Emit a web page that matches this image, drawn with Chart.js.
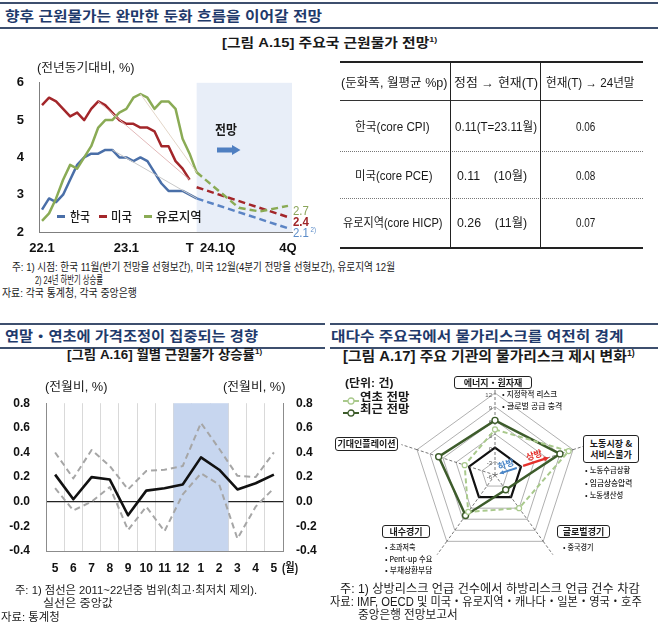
<!DOCTYPE html>
<html lang="ko">
<head>
<meta charset="utf-8">
<script src="https://cdn.jsdelivr.net/npm/chart.js@4.4.1/dist/chart.umd.min.js"></script>
<style>
  body { margin: 0; width: 658px; height: 628px; position: relative; background: #fff; overflow: hidden;
         font-family: 'Liberation Sans', 'Noto Sans CJK KR', sans-serif; color: #1a1a1a; }
  .t { position: absolute; white-space: nowrap; line-height: 1; transform-origin: 0 50%; }
  .rule { position: absolute; }
  canvas { position: absolute; }
  .box { position: absolute; border: 1.3px solid #222; border-radius: 3px; background: #fff; box-sizing: border-box;
         display: flex; align-items: center; justify-content: center; text-align: center;
         font-family: 'Noto Sans CJK KR', sans-serif; font-weight: 700; font-size: 9px; line-height: 1.25; }
  sup { font-size: 0.6em; vertical-align: 0.6em; line-height: 0; }
</style>
</head>
<body>
<canvas id="coreChart" width="330" height="200" style="left:0;top:60px"></canvas>
<canvas id="monthlyChart" width="330" height="200" style="left:0;top:380px"></canvas>
<canvas id="riskChart" width="220" height="220" style="left:385px;top:365px"></canvas>

<script>
/* ===== [그림 A.15] 주요국 근원물가 (22.1 ~ 24.12, 월 index) ===== */
const koreaCore = [2.6, 2.9, 2.8, 3.0, 3.4, 3.8, 4.0, 4.1, 4.1, 4.2, 4.2, 4.0, 4.0, 3.9, 4.0, 3.9, 3.6, 3.3, 3.1, 3.1, 3.1, 3.0, 2.9];
const usCore    = [5.4, 5.6, 5.5, 5.3, 5.1, 5.2, 5.0, 5.3, 5.5, 5.4, 5.2, 5.0, 4.9, 4.9, 4.8, 4.8, 4.7, 4.3, 4.3, 3.9, 3.7, 3.4];
const euroCore  = [2.3, 2.5, 2.9, 3.4, 3.8, 3.7, 4.0, 4.3, 4.8, 5.0, 5.0, 5.2, 5.3, 5.6, 5.7, 5.6, 5.3, 5.5, 5.5, 5.3, 4.5, 4.1, 3.6];

const koreaFcstX = [22, 35], koreaFcst = [2.9, 2.1];
const usFcstX    = [22, 35], usFcst    = [3.2, 2.4];
const euroFcstX  = [22, 28, 31, 35], euroFcst = [3.6, 2.65, 2.55, 2.7];

// 정점 -> 현재(T) 추세선
const koreaPeakX = [10, 22], koreaPeakY = [4.2, 2.9];
const usPeakX    = [8, 21],  usPeakY    = [5.5, 3.4];
const euroPeakX  = [14, 22], euroPeakY  = [5.7, 3.6];

const forecastFrom = 22;
const coreTickIdx  = [0, 12, 21, 25, 35];
const coreTickText = ['22.1', '23.1', 'T', '24.1Q', '4Q'];

/* ===== [그림 A.16] 월별 근원물가 상승률 ===== */
const monthLabels   = ['5', '6', '7', '8', '9', '10', '11', '12', '1', '2', '3', '4', '5'];
const medianChange  = [0.22, 0.02, 0.20, 0.18, -0.11, 0.09, 0.11, 0.14, 0.36, 0.26, 0.10, 0.15, 0.22];
const upperRange    = [0.40, 0.19, 0.42, 0.29, 0.10, 0.25, 0.26, 0.29, 0.64, 0.43, 0.21, 0.20, 0.40];
const lowerRange    = [0.11, -0.07, 0.00, 0.12, -0.23, -0.04, -0.24, 0.06, 0.23, 0.14, -0.30, -0.04, 0.11];
const shadedMonths  = [7, 9];   // 12월 ~ 2월

/* ===== [그림 A.17] 물가리스크 (단위: 건) ===== */
const riskAxes   = ['에너지・원자재', '노동시장 & 서비스물가', '글로벌경기', '내수경기', '기대인플레이션'];
const riskEarly  = [4, 11, 3, 4, 1];
const riskRecent = [6, 9, -2, 5, 7];
const upArrow    = [0.5, 6.5];
const downArrow  = [-1, -5];

/* ---------- helpers ---------- */
function put(html, x, cy, size, w, css) {
  const el = document.createElement('div');
  el.className = 't';
  el.innerHTML = html;
  el.style.left = x + 'px';
  el.style.top = (cy - size * 0.5) + 'px';
  el.style.fontSize = size + 'px';
  if (css) el.style.cssText += css;
  document.body.appendChild(el);
  if (w) el.style.transform = 'scaleX(' + (w / el.offsetWidth).toFixed(3) + ')';
  return el;
}
function rule(x, y, w, h, css) {
  const el = document.createElement('div');
  el.className = 'rule';
  el.style.cssText += `left:${x}px;top:${y}px;width:${w}px;height:${h}px;` + css;
  document.body.appendChild(el);
}
function box(html, x, y, w, h) {
  const el = document.createElement('div');
  el.className = 'box';
  el.innerHTML = html;
  el.style.cssText += `left:${x}px;top:${y}px;width:${w}px;height:${h}px;`;
  document.body.appendChild(el);
}
function svg(x, y, w, h, inner) {
  const d = document.createElement('div');
  d.style.cssText = `position:absolute;left:${x}px;top:${y}px;width:${w}px;height:${h}px`;
  d.innerHTML = `<svg width="${w}" height="${h}" xmlns="http://www.w3.org/2000/svg">${inner}</svg>`;
  document.body.appendChild(d);
}

const NAVY = 'color:#1f3a6b;font-weight:700;font-family:"Noto Sans CJK KR",sans-serif';
const BOLD = 'font-weight:700';

/* ---------- page text / rules ---------- */
rule(0, 2, 658, 1.5, 'background:#3d4f6e');
rule(0, 27, 658, 1.5, 'background:#3d4f6e');
put('향후 근원물가는 완만한 둔화 흐름을 이어갈 전망', 5, 14.5, 14, 317, NAVY);
put('[그림 A.15] 주요국 근원물가 전망<sup>1)</sup>', 222, 42, 13, 215, BOLD);
put('(전년동기대비, %)', 37, 68, 12, 98);

put('전망', 215, 129, 13, 22, BOLD);
svg(217, 141, 24, 10, '<path d="M0 2.5 H15 V0 L23.5 5 L15 10 V7.5 H0 Z" fill="#4f7fc1"/>');

rule(57, 215, 8, 2.5, 'background:#4a6fa8');
put('한국', 70, 216, 13, 20, 'font-weight:500');
rule(99, 215, 8, 2.5, 'background:#a3262a');
put('미국', 111, 216, 13, 21, 'font-weight:500');
rule(144, 215, 8, 2.5, 'background:#8aab55');
put('유로지역', 156, 216, 13, 46, 'font-weight:500');

// table
rule(340, 61, 303, 2, 'background:#222');
rule(340, 100, 303, 1, 'background:#333');
rule(340, 151, 303, 0, 'border-top:1px dotted #777');
rule(340, 198, 303, 0, 'border-top:1px dotted #777');
rule(340, 247, 303, 2, 'background:#222');
rule(450, 62, 1.2, 186, 'background:#222');
rule(540, 62, 1.2, 186, 'background:#222');
put('(둔화폭, 월평균 %p)', 341, 83, 12, 107);
put('정점 → 현재(T)', 454, 83, 12, 84);
put('현재(T) → 24년말', 546, 83, 12, 89);
put('한국(core CPI)', 355, 127, 12, 75);
put('0.11(T=23.11월)', 455, 127, 12, 82);
put('0.06', 576, 127, 12, 19);
put('미국(core PCE)', 355, 176, 12, 77);
put('0.11&nbsp;&nbsp;&nbsp; (10월)', 457, 176, 12, 70);
put('0.08', 576, 176, 12, 19);
put('유로지역(core HICP)', 343, 223, 12, 100);
put('0.26&nbsp;&nbsp;&nbsp; (11월)', 457, 223, 12, 70);
put('0.07', 576, 223, 12, 19);

put('주: 1) 시점: 한국 11월(반기 전망을 선형보간), 미국 12월(4분기 전망을 선형보간), 유로지역 12월', 12, 267, 11, 383);
put('2) 24년 하반기 상승률', 35, 280, 11, 68);
put('자료: 각국 통계청, 각국 중앙은행', 2, 293, 11, 135);

// lower sections
rule(0, 323, 325, 1.5, 'background:#3d4f6e');
rule(0, 347, 325, 1.5, 'background:#3d4f6e');
rule(330, 323, 328, 1.5, 'background:#3d4f6e');
rule(330, 347, 328, 1.5, 'background:#3d4f6e');
put('연말・연초에 가격조정이 집중되는 경향', 5, 335, 14, 253, NAVY);
put('대다수 주요국에서 물가리스크를 여전히 경계', 331, 335, 14, 292, NAVY);
put('[그림 A.16] 월별 근원물가 상승률<sup>1)</sup>', 67, 354, 13, 195, BOLD);
put('[그림 A.17] 주요 기관의 물가리스크 제시 변화<sup>1)</sup>', 343, 356, 14, 292, BOLD);

put('(전월비, %)', 45, 387, 12, 62);
put('(전월비, %)', 223, 387, 12, 62);
put('(월)', 282, 568, 12, 16, BOLD);
put('주: 1) 점선은 2011~22년중 범위(최고·최저치 제외).', 15, 590, 11, 242);
put('실선은 중앙값', 43, 603, 11, 70);
put('자료: 통계청', 1, 617, 11, 59);

put('(단위: 건)', 345, 383, 11, 48, BOLD);
svg(343, 392, 16, 10, '<line x1="0" y1="5" x2="16" y2="5" stroke="#a9c98c" stroke-width="2"/><circle cx="8" cy="5" r="3" fill="#fff" stroke="#a9c98c" stroke-width="1.3"/>');
put('연초 전망', 360, 397, 11, 50, BOLD);
svg(343, 404, 16, 10, '<line x1="0" y1="5" x2="16" y2="5" stroke="#3d5c2b" stroke-width="2"/><circle cx="8" cy="5" r="3" fill="#fff" stroke="#3d5c2b" stroke-width="1.3"/>');
put('최근 전망', 360, 409, 11, 50, BOLD);

put('주: 1) 상방리스크 언급 건수에서 하방리스크 언급 건수 차감', 340, 589, 12, 300);
put('자료: IMF, OECD 및 미국・유로지역・캐나다・일본・영국・호주', 330, 602, 12, 312);
put('중앙은행 전망보고서', 358, 615, 12, 100);

/* ---------- charts ---------- */
Chart.defaults.font.family = "'Liberation Sans', 'Noto Sans CJK KR', sans-serif";
Chart.defaults.color = '#111';
Chart.defaults.animation = false;
Chart.defaults.plugins.legend.display = false;
Chart.defaults.plugins.tooltip.enabled = false;
Chart.defaults.elements.point.radius = 0;
Chart.defaults.elements.line.tension = 0;

const pts = (xs, ys) => ys.map((y, i) => ({ x: xs[i], y }));
const idx = arr => arr.map((_, i) => i);
const line = (data, color, width, dash) => ({
  data, borderColor: color, borderWidth: width, borderDash: dash || [], fill: false, borderJoinStyle: 'round'
});

const coreDecor = {
  id: 'coreDecor',
  beforeDatasetsDraw(chart) {
    const { ctx, chartArea: a, scales: { x } } = chart;
    const x0 = x.getPixelForValue(forecastFrom);
    ctx.save();
    ctx.fillStyle = '#e8eef8';
    ctx.fillRect(x0, a.top, a.right - x0, a.bottom - a.top);
    ctx.restore();
  },
  afterDatasetsDraw(chart) {
    const { ctx, chartArea: a, scales: { y } } = chart;
    const ends = [
      [euroFcst, '#8aa55a', ''],
      [usFcst, '#a0262a', 'bold '],
      [koreaFcst, '#5b8cc8', '']
    ];
    ctx.save();
    ctx.textBaseline = 'middle';
    ends.forEach(([arr, color, weight], k) => {
      const v = arr[arr.length - 1];
      const py = y.getPixelForValue(v) + 5.5;
      ctx.save();
      ctx.translate(a.right + 1, py);
      ctx.scale(0.88, 1);
      ctx.fillStyle = color;
      ctx.font = weight + '13px Liberation Sans';
      ctx.fillText(v.toFixed(1), 0, 0);
      if (k === 2) {
        ctx.font = '7px Liberation Sans';
        ctx.fillText('2)', 20, -4);
      }
      ctx.restore();
    });
    ctx.restore();
  }
};

new Chart(document.getElementById('coreChart'), {
  type: 'line',
  data: {
    datasets: [
      line(pts(koreaPeakX, koreaPeakY), '#c8c8c8', 1),
      line(pts(usPeakX, usPeakY), '#e2b9b9', 1),
      line(pts(euroPeakX, euroPeakY), '#e3d6c8', 1),
      line(pts(euroFcstX, euroFcst), '#8aab55', 2.5, [7, 4]),
      line(pts(usFcstX, usFcst), '#a3262a', 2.5, [7, 4]),
      line(pts(koreaFcstX, koreaFcst), '#5b84c4', 2.5, [7, 4]),
      line(pts(idx(euroCore), euroCore), '#8aab55', 2.5),
      line(pts(idx(usCore), usCore), '#a3262a', 2.5),
      line(pts(idx(koreaCore), koreaCore), '#4a6fa8', 2.5)
    ]
  },
  options: {
    responsive: false,
    layout: { padding: { top: 17, right: 38, left: 0, bottom: 0 } },
    scales: {
      x: {
        type: 'linear', min: -0.43, max: 35.57,
        afterBuildTicks: s => { s.ticks = coreTickIdx.map(v => ({ value: v })); },
        afterFit: s => { s.height = 28; },
        ticks: {
          autoSkip: false, maxRotation: 0, padding: 9,
          font: { size: 13, weight: 'bold' },
          callback: v => coreTickText[coreTickIdx.indexOf(v)]
        },
        grid: { display: false, drawTicks: false },
        border: { color: '#7f7f7f' }
      },
      y: {
        min: 2, max: 6,
        afterFit: s => { s.width = 39; },
        ticks: { stepSize: 1, padding: 15, font: { size: 13, weight: 'bold' } },
        grid: { drawOnChartArea: false, drawTicks: false },
        border: { color: '#7f7f7f' }
      }
    }
  },
  plugins: [coreDecor]
});

const monthShade = {
  id: 'monthShade',
  beforeDatasetsDraw(chart) {
    const { ctx, chartArea: a, scales: { x } } = chart;
    const half = (x.getPixelForValue(1) - x.getPixelForValue(0)) / 2;
    const x0 = x.getPixelForValue(shadedMonths[0]) - half;
    const x1 = x.getPixelForValue(shadedMonths[1]) + half;
    ctx.save();
    ctx.fillStyle = '#c7d6ef';
    ctx.fillRect(x0, a.top, x1 - x0, a.bottom - a.top);
    ctx.restore();
  }
};

const zeroOnly = c => Math.abs(c.tick.value) < 1e-9 ? '#222' : 'rgba(0,0,0,0)';
const fmt = v => Math.abs(v) < 1e-9 ? '0.0' : v.toFixed(1);

new Chart(document.getElementById('monthlyChart'), {
  type: 'line',
  data: {
    labels: monthLabels,
    datasets: [
      line(upperRange, '#a6a6a6', 2, [6, 4]),
      line(lowerRange, '#a6a6a6', 2, [6, 4]),
      line(medianChange, '#111', 2.6)
    ]
  },
  options: {
    responsive: false,
    layout: { padding: { top: 15, right: 0, left: 0, bottom: 0 } },
    scales: {
      x: {
        offset: true,
        afterFit: s => { s.height = 29; },
        ticks: { padding: 10, maxRotation: 0, autoSkip: false, font: { size: 12, weight: 'bold' } },
        grid: { offset: true, color: '#d9d9d9', drawTicks: false },
        border: { color: '#8c8c8c' }
      },
      y: {
        position: 'left', min: -0.4, max: 0.8,
        afterFit: s => { s.width = 46; },
        ticks: { stepSize: 0.2, padding: 16, callback: fmt, font: { size: 12, weight: 'bold' } },
        grid: { color: zeroOnly, lineWidth: 1.2, drawTicks: false },
        border: { color: '#8c8c8c' }
      },
      y2: {
        position: 'right', min: -0.4, max: 0.8,
        afterFit: s => { s.width = 47; },
        ticks: { stepSize: 0.2, padding: 13, callback: fmt, font: { size: 12, weight: 'bold' } },
        grid: { drawOnChartArea: false, drawTicks: false },
        border: { color: '#8c8c8c' }
      }
    }
  },
  plugins: [monthShade]
});

function arrowLine(ctx, p0, p1, color, width, head) {
  const ang = Math.atan2(p1.y - p0.y, p1.x - p0.x);
  ctx.strokeStyle = color; ctx.fillStyle = color; ctx.lineWidth = width;
  ctx.beginPath();
  ctx.moveTo(p0.x, p0.y);
  ctx.lineTo(p1.x - Math.cos(ang) * head * 0.8, p1.y - Math.sin(ang) * head * 0.8);
  ctx.stroke();
  ctx.beginPath();
  ctx.moveTo(p1.x, p1.y);
  ctx.lineTo(p1.x - Math.cos(ang - 0.45) * head, p1.y - Math.sin(ang - 0.45) * head);
  ctx.lineTo(p1.x - Math.cos(ang + 0.45) * head, p1.y - Math.sin(ang + 0.45) * head);
  ctx.closePath();
  ctx.fill();
}

const riskDecor = {
  id: 'riskDecor',
  beforeDatasetsDraw(chart) {
    const r = chart.scales.r;
    const ctx = chart.ctx;
    ctx.save();
    ctx.strokeStyle = '#555';
    ctx.lineWidth = 0.8;
    ctx.setLineDash([3, 2]);
    riskAxes.forEach((_, i) => {
      const a = r.getPointPositionForValue(i, r.max);
      const b = r.getPointPosition(i, r.drawingArea * 1.2);
      ctx.beginPath(); ctx.moveTo(a.x, a.y); ctx.lineTo(b.x, b.y); ctx.stroke();
    });
    ctx.setLineDash([]);
    ctx.fillStyle = '#555';
    ctx.font = '6px Liberation Sans';
    ctx.textAlign = 'right';
    ctx.textBaseline = 'middle';
    for (let v = r.min; v <= r.max; v += 3) {
      ctx.fillText(String(v), r.xCenter - 3, r.yCenter - r.getDistanceFromCenterForValue(v) + 2);
    }
    ctx.restore();
  },
  afterDatasetsDraw(chart) {
    const r = chart.scales.r;
    const ctx = chart.ctx;
    const ang = -18 * Math.PI / 180;
    ctx.save();
    const u0 = r.getPointPositionForValue(1, upArrow[0]);
    const u1 = r.getPointPositionForValue(1, upArrow[1]);
    arrowLine(ctx, u0, u1, '#e5302b', 2.4, 6);
    const d0 = r.getPointPositionForValue(1, downArrow[0]);
    const d1 = r.getPointPositionForValue(1, downArrow[1]);
    arrowLine(ctx, d0, d1, '#4a86c8', 2, 5);
    ctx.font = 'bold 9px Noto Sans CJK KR';
    ctx.textAlign = 'center';
    ctx.textBaseline = 'middle';
    [[u0, u1, '#e5302b', '상방'], [d0, d1, '#4a86c8', '하방']].forEach(([p, q, c, s]) => {
      ctx.save();
      ctx.translate((p.x + q.x) / 2 + Math.sin(ang) * 7, (p.y + q.y) / 2 - Math.cos(ang) * 7);
      ctx.rotate(ang);
      ctx.fillStyle = c;
      ctx.fillText(s, 0, 0);
      ctx.restore();
    });
    ctx.restore();
  }
};

new Chart(document.getElementById('riskChart'), {
  type: 'radar',
  data: {
    labels: riskAxes,
    datasets: [
      { data: riskEarly, borderColor: '#a9c98c', borderWidth: 2, borderDash: [5, 3], fill: false,
        pointRadius: 2.5, pointBackgroundColor: '#fff', pointBorderColor: '#a9c98c', pointBorderWidth: 1.2 },
      { data: riskRecent, borderColor: '#3d5c2b', borderWidth: 2.5, fill: false,
        pointRadius: 3, pointBackgroundColor: '#fff', pointBorderColor: '#3d5c2b', pointBorderWidth: 1.4 }
    ]
  },
  options: {
    responsive: false,
    layout: { padding: 28 },
    scales: {
      r: {
        min: -6, max: 12,
        ticks: { stepSize: 3, display: false },
        pointLabels: { display: false },
        grid: {
          color: c => c.tick.value === 0 ? '#111' : '#9c9c9c',
          lineWidth: c => c.tick.value === 0 ? 2.2 : 0.8
        },
        angleLines: { color: '#555', lineWidth: 0.8, borderDash: [3, 2] }
      }
    }
  },
  plugins: [riskDecor]
});

/* radar axis boxes and bullets */
box('에너지・원자재', 454, 376, 78, 13);
box('기대인플레이션', 335, 437, 63, 14);
box('노동시장 &amp;<br>서비스물가', 583, 435, 56, 28);
box('내수경기', 382, 525, 48, 13);
box('글로벌경기', 557, 525, 53, 13);
const BUL = 'font-family:"Noto Sans CJK KR",sans-serif;font-weight:500';
put('• 지정학적 리스크', 502, 394, 7.5, 55, BUL);
put('• 글로벌 공급 충격', 502, 406, 7.5, 60, BUL);
put('• 노동수급상황', 585, 470, 7.5, 45, BUL);
put('• 임금상승압력', 585, 483, 7.5, 47, BUL);
put('• 노동생산성', 585, 495, 7.5, 38, BUL);
put('• 초과저축', 385, 547, 7.5, 30, BUL);
put('• Pent-up 수요', 385, 559, 7.5, 47, BUL);
put('• 부채상환부담', 385, 570, 7.5, 47, BUL);
put('• 중국경기', 563, 547, 7.5, 30, BUL);
</script>
</body>
</html>
